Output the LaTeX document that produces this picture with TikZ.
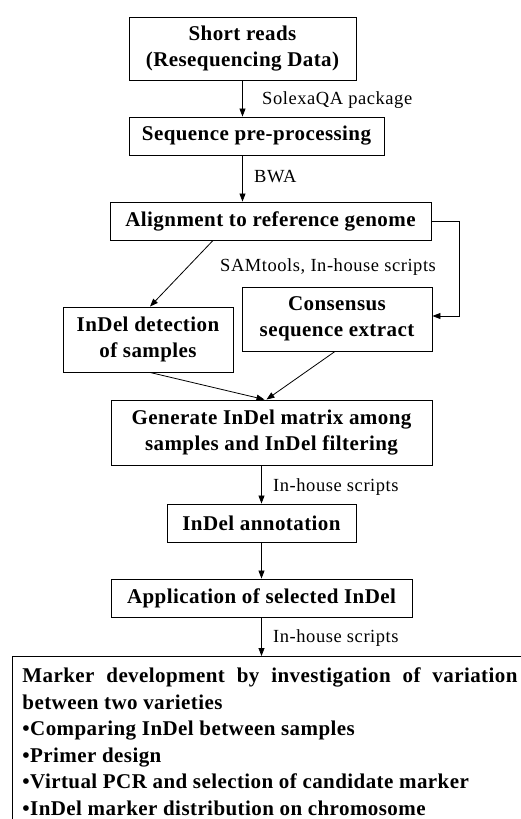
\documentclass[tikz,border=0pt]{standalone}
\usepackage{fontspec}
\setmainfont{Liberation Serif}
\usetikzlibrary{arrows.meta}
\hyphenpenalty=10000
\exhyphenpenalty=10000
\begin{document}
\begin{tikzpicture}[x=1pt,y=-1pt,
  box/.style={draw, line width=0.9pt, inner sep=0pt, align=center, font=\bfseries\fontsize{21}{26}\selectfont\addfontfeatures{LetterSpace=2}},
  lbl/.style={anchor=west, inner sep=0pt, font=\fontsize{18.5}{22}\selectfont\addfontfeatures{LetterSpace=3}},
  arr/.style={-{Triangle[length=8pt,width=6pt]}, line width=0.8pt}]
\useasboundingbox (0,0) rectangle (520,819);
\node[box, minimum width=227pt, minimum height=63pt] (reads) at (242.5,48.5) {Short reads\\(Resequencing Data)};
\node[box, minimum width=255pt, minimum height=38pt] (pre) at (256.5,136) {Sequence pre-processing};
\node[box, minimum width=321pt, minimum height=38pt] (align) at (270.5,221) {Alignment to reference genome};
\node[box, minimum width=170pt, minimum height=65pt] (det) at (148,339.5) {InDel detection\\of samples};
\node[box, minimum width=190pt, minimum height=64pt] (cons) at (337,319) {Consensus\\sequence extract};
\node[box, minimum width=321pt, minimum height=65pt] (gen) at (271.5,432.5) {Generate InDel matrix among\\samples and InDel filtering};
\node[box, minimum width=189pt, minimum height=38pt] (ann) at (261.5,523) {InDel annotation};
\node[box, minimum width=301pt, minimum height=38pt] (app) at (261.5,598) {Application of selected InDel};
\node[draw, line width=0.9pt, anchor=north west, inner xsep=10pt, inner ysep=11.5pt, text width=495pt, align=justify, font=\bfseries\fontsize{21}{26.5}\selectfont\addfontfeatures{LetterSpace=2}] (mark) at (12,656) {Marker development by investigation of variation between two varieties\\•Comparing InDel between samples\\•Primer design\\•Virtual PCR and selection of candidate marker\\•InDel marker distribution on chromosome};
\draw[arr] (reads.south) -- (reads.south |- pre.north);
\draw[arr] (pre.south -| reads.south) -- (reads.south |- align.north);
\draw[arr] ([xshift=-57.5pt]align.south) -- ([xshift=2pt]det.north);
\draw[arr] (align.east) -- ++(28,0) |- ([yshift=3pt]cons.east);
\draw[arr] ([xshift=2pt]det.south) -- ([xshift=-7pt]gen.north);
\draw[arr] ([xshift=-2pt]cons.south) -- ([xshift=-5pt]gen.north);
\draw[arr] (ann.north |- gen.south) -- (ann.north);
\draw[arr] (ann.south) -- (app.north);
\draw[arr] (app.south) -- (app.south |- mark.north);
\node[lbl] (l1) at (262,100) {SolexaQA package};
\node[lbl] (l2) at (254,177) {BWA};
\node[lbl] (l3) at (220,267) {SAMtools, In-house scripts};
\node[lbl] (l4) at (273,487) {In-house scripts};
\node[lbl] (l5) at (273,638) {In-house scripts};
\end{tikzpicture}
\end{document}
